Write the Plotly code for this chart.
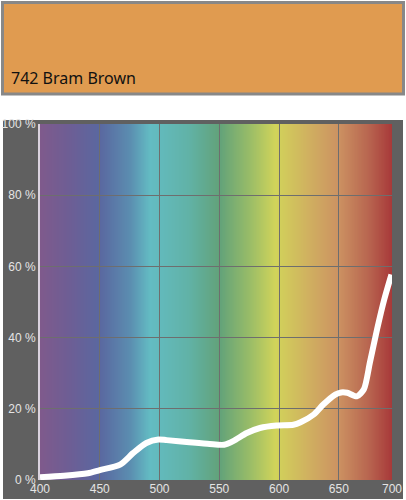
import base64
import struct
import zlib

import numpy as np
import plotly.graph_objects as go

# ---- data ----
wavelength_nm = [400, 420, 440, 450, 467, 478, 489, 499, 506, 525, 542, 554, 562,
                 573, 584, 598, 612, 618, 629, 637, 647, 652, 657, 665, 671, 676,
                 682, 688, 694]
transmission_pct = [0.8, 1.2, 1.9, 2.8, 4.3, 7.6, 10.4, 11.4, 11.2, 10.6, 10.1, 9.9,
                    11.0, 13.2, 14.6, 15.3, 15.5, 16.2, 18.4, 21.2, 24.0, 24.6, 24.5,
                    23.5, 25.5, 33.0, 42.3, 50.7, 57.7]
x_tick_vals = [400, 450, 500, 550, 600, 650, 694.5]
x_tick_text = ["400", "450", "500", "550", "600", "650", "700"]
y_tick_vals = [0, 20, 40, 60, 80, 100]
y_tick_text = ["0 %", "20 %", "40 %", "60 %", "80 %", "100 %"]
title_text = "742 Bram Brown"
swatch_color = "#E09B50"

# ---- spectrum background (style) ----
X_MIN, X_MAX = 400, 694.5
spec_pos = [400, 425, 450, 475, 492, 525, 550, 575, 597, 625, 650, 675, 694.5]
spec_col = ["#7F5A8C", "#6D5E95", "#5A68A0", "#5B8DB0", "#63BCC3", "#61B2A6",
            "#62A27A", "#98BC68", "#D1D45A", "#D0B060", "#CC9262", "#B86650",
            "#A83A3A"]


def hex_rgb(h):
    h = h.lstrip("#")
    return [int(h[i:i + 2], 16) for i in (0, 2, 4)]


rgb = np.array([hex_rgb(c) for c in spec_col], dtype=float)
W = 600
xs = np.linspace(X_MIN, X_MAX, W)
row = np.stack([np.interp(xs, spec_pos, rgb[:, k]) for k in range(3)], axis=1)
row = np.clip(np.round(row), 0, 255).astype(np.uint8)
H = 2
raw = b"".join(b"\x00" + row.tobytes() for _ in range(H))


def chunk(tag, data):
    c = struct.pack(">I", len(data)) + tag + data
    return c + struct.pack(">I", zlib.crc32(tag + data) & 0xFFFFFFFF)


png = b"\x89PNG\r\n\x1a\n" + chunk(b"IHDR", struct.pack(">IIBBBBB", W, H, 8, 2, 0, 0, 0)) \
    + chunk(b"IDAT", zlib.compress(raw, 9)) + chunk(b"IEND", b"")
img_src = "data:image/png;base64," + base64.b64encode(png).decode()

# ---- layout geometry (pixels) ----
FW, FH = 406, 500
ML, MR, MT, MB = 40, 14, 124, 20
PW, PH = FW - ML - MR, FH - MT - MB


def px(x):
    return (x - ML) / PW


def py(y):
    return (FH - MB - y) / PH


fig = go.Figure()
fig.add_trace(go.Scatter(
    x=wavelength_nm, y=transmission_pct, mode="lines",
    line=dict(color="white", width=6, shape="spline", smoothing=0.7),
    hoverinfo="skip", showlegend=False, cliponaxis=True,
))

grid_col = "#6E6E6E"
tick_font = dict(family="Liberation Sans", size=12, color="#E4E4E4")
fig.update_layout(
    width=FW, height=FH,
    margin=dict(l=ML, r=MR, t=MT, b=MB, pad=0, autoexpand=False),
    paper_bgcolor="white",
    plot_bgcolor="#606060",
    showlegend=False,
    xaxis=dict(range=[X_MIN, X_MAX], tickmode="array", tickvals=x_tick_vals,
               ticktext=x_tick_text, showgrid=True, gridcolor=grid_col, gridwidth=1,
               zeroline=False, showline=False, ticks="", ticklen=0,
               tickfont=tick_font, automargin=False, fixedrange=True),
    yaxis=dict(range=[0, 100], tickmode="array", tickvals=y_tick_vals,
               ticktext=y_tick_text, showgrid=True, gridcolor=grid_col, gridwidth=1,
               zeroline=False, showline=True, linecolor="rgba(240,230,245,0.85)",
               linewidth=2, ticks="", ticklen=0,
               tickfont=tick_font, automargin=False, fixedrange=True),
    images=[dict(source=img_src, xref="x", yref="y", x=X_MIN, y=100,
                 sizex=X_MAX - X_MIN, sizey=100, sizing="stretch",
                 xanchor="left", yanchor="top", layer="below")],
    shapes=[
        # dark panel behind chart
        dict(type="rect", xref="paper", yref="paper", x0=px(3), x1=px(403),
             y0=py(499), y1=py(120), fillcolor="#606060", line=dict(width=0),
             layer="below"),
        # colour swatch
        dict(type="rect", xref="paper", yref="paper", x0=px(2.5), x1=px(403.5),
             y0=py(94), y1=py(2.5), fillcolor=swatch_color,
             line=dict(color="#888888", width=3), layer="below"),
    ],
    annotations=[
        dict(text=title_text, xref="paper", yref="paper", x=px(9), y=py(78),
             xanchor="left", yanchor="middle", showarrow=False,
             font=dict(family="Noto Sans", size=16, color="#111111")),
    ],
)

fig.write_html(
    "out.html",
    config={"displayModeBar": False},
    post_script="document.documentElement.style.margin='0';"
                "document.body.style.margin='0';document.body.style.padding='0';"
                "document.body.style.overflow='hidden';",
)
